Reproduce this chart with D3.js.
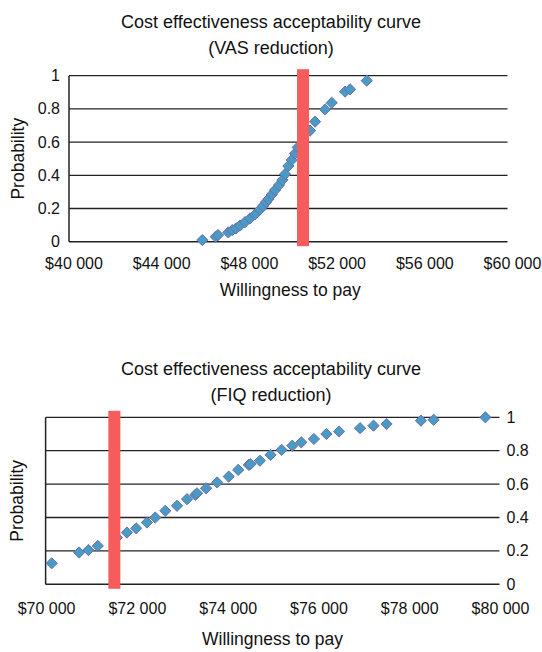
<!DOCTYPE html>
<html>
  <head>
    <meta charset="utf-8">
    <title>CEAC</title>
    <script src="https://d3js.org/d3.v7.min.js" charset="utf-8"></script>
    <style>
      body { margin: 0; background: #fff; }
      text { font-family: "Liberation Sans", Arial, Helvetica, sans-serif; fill: #111; }
    </style>
  </head>
  <body>
    <script>
      var width = 542;
      var height = 652;

      // VAS reduction
      var vasWtp = [46081, 46692, 46797, 47267, 47450, 47619, 47801, 48029, 48257, 48485,
        48713, 48850, 48987, 49101, 49247, 49398, 49580, 49731, 49854, 50004,
        50160, 50310, 50433, 50994, 51223, 51679, 51984, 52591, 52819, 53581];
      var vasProb = [0.01, 0.03, 0.04, 0.056, 0.07, 0.08, 0.097, 0.118, 0.14, 0.164,
        0.194, 0.215, 0.239, 0.257, 0.284, 0.311, 0.341, 0.371, 0.407, 0.456,
        0.492, 0.532, 0.568, 0.669, 0.723, 0.797, 0.837, 0.904, 0.918, 0.97];
      var vasThreshold = 50675;
      var vasTicks = [40000, 44000, 48000, 52000, 56000, 60000];

      // FIQ reduction
      var fiqWtp = [70135, 70738, 70943, 71150, 71570, 71791, 71996, 72232, 72416, 72637,
        72895, 73116, 73299, 73337, 73536, 73779, 74035, 74243, 74477, 74514,
        74720, 74956, 75199, 75435, 75634, 75912, 76186, 76465, 76928, 77224,
        77511, 78269, 78549, 79689];
      var fiqProb = [0.126, 0.19, 0.205, 0.23, 0.28, 0.31, 0.335, 0.37, 0.40, 0.44,
        0.47, 0.51, 0.535, 0.545, 0.575, 0.61, 0.645, 0.685, 0.715, 0.72,
        0.74, 0.775, 0.805, 0.83, 0.85, 0.87, 0.90, 0.915, 0.935, 0.95,
        0.96, 0.98, 0.985, 1.0];
      var fiqThreshold = 71515;
      var fiqTicks = [70000, 72000, 74000, 76000, 78000, 80000];

      var probTicks = [0, 0.2, 0.4, 0.6, 0.8, 1];
      var fmtMoney = function(d) { return "$" + d3.format(",")(d).replace(",", " "); };

      var svg = d3.select("body")
          .append("svg")
          .attr("width", width)
          .attr("height", height);

      function drawChart(opt) {
        var g = svg.append("g");
        var x = d3.scaleLinear().domain(opt.xDomain).range(opt.xRange);
        var y = d3.scaleLinear().domain([0, 1]).range(opt.yRange);

        // titles
        g.append("text").attr("x", width / 2).attr("y", opt.titleY)
          .attr("text-anchor", "middle").style("font-size", "18px")
          .text("Cost effectiveness acceptability curve");
        g.append("text").attr("x", width / 2).attr("y", opt.titleY + 25.5)
          .attr("text-anchor", "middle").style("font-size", "18px")
          .text(opt.subtitle);

        // gridlines
        g.selectAll(".grid")
          .data(probTicks)
          .enter()
          .append("line")
          .attr("x1", opt.xRange[0]).attr("x2", opt.xRange[1])
          .attr("y1", function(d) { return y(d); })
          .attr("y2", function(d) { return y(d); })
          .attr("stroke", "#222")
          .attr("stroke-width", function(d) { return d === 0 ? 1.6 : 1.3; });

        // left border
        g.append("line")
          .attr("x1", opt.xRange[0]).attr("x2", opt.xRange[0])
          .attr("y1", y(0)).attr("y2", y(1))
          .attr("stroke", "#222").attr("stroke-width", 1.5);

        // y tick labels
        g.selectAll(".ylab")
          .data(probTicks)
          .enter()
          .append("text")
          .attr("x", opt.yLabelX)
          .attr("y", function(d) { return y(d) + 5.5; })
          .attr("text-anchor", opt.yLabelAnchor)
          .style("font-size", "16px")
          .text(function(d) { return d; });

        // x tick labels
        g.selectAll(".xlab")
          .data(opt.ticks)
          .enter()
          .append("text")
          .attr("x", function(d) { return x(d) + opt.xLabelShift; })
          .attr("y", opt.xLabelY)
          .attr("text-anchor", "middle")
          .style("font-size", "16px")
          .text(fmtMoney);

        // axis titles
        g.append("text").attr("x", (opt.xRange[0] + opt.xRange[1]) / 2 + opt.xTitleShift)
          .attr("y", opt.xTitleY).attr("text-anchor", "middle")
          .style("font-size", "17.5px").text("Willingness to pay");
        g.append("text")
          .attr("transform", "translate(" + opt.yTitleX + "," + ((y(0) + y(1)) / 2) + ") rotate(-90)")
          .attr("text-anchor", "middle")
          .style("font-size", "17.5px").text("Probability");

        // points
        var pts = d3.range(opt.wtp.length);
        var diamond = "M0,-5.6L5.6,0L0,5.6L-5.6,0Z";
        g.selectAll(".pt")
          .data(pts)
          .enter()
          .append("path")
          .attr("d", diamond)
          .attr("transform", function(i) { return "translate(" + x(opt.wtp[i]) + "," + y(opt.prob[i]) + ")"; })
          .attr("fill", "#4a9ac6")
          .attr("stroke", "#6a70ac")
          .attr("stroke-width", 1);

        // threshold bar
        g.append("rect")
          .attr("x", x(opt.threshold) - 6)
          .attr("width", 12)
          .attr("y", y(1) - 6.5)
          .attr("height", y(0) - y(1) + 11)
          .attr("fill", "#f65c5c");
      }

      drawChart({
        xDomain: [40000, 60000], xRange: [69, 507.5], yRange: [241.7, 75.7],
        wtp: vasWtp, prob: vasProb, threshold: vasThreshold, ticks: vasTicks,
        subtitle: "(VAS reduction)", titleY: 28,
        yLabelX: 60, yLabelAnchor: "end", yTitleX: 24,
        xLabelY: 268.5, xLabelShift: 5, xTitleY: 296, xTitleShift: 2
      });

      drawChart({
        xDomain: [70000, 80000], xRange: [45.6, 499.5], yRange: [584.3, 417.3],
        wtp: fiqWtp, prob: fiqProb, threshold: fiqThreshold, ticks: fiqTicks,
        subtitle: "(FIQ reduction)", titleY: 375,
        yLabelX: 506.5, yLabelAnchor: "start", yTitleX: 23,
        xLabelY: 613.5, xLabelShift: 1, xTitleY: 645, xTitleShift: 0
      });
    </script>
  </body>
</html>
